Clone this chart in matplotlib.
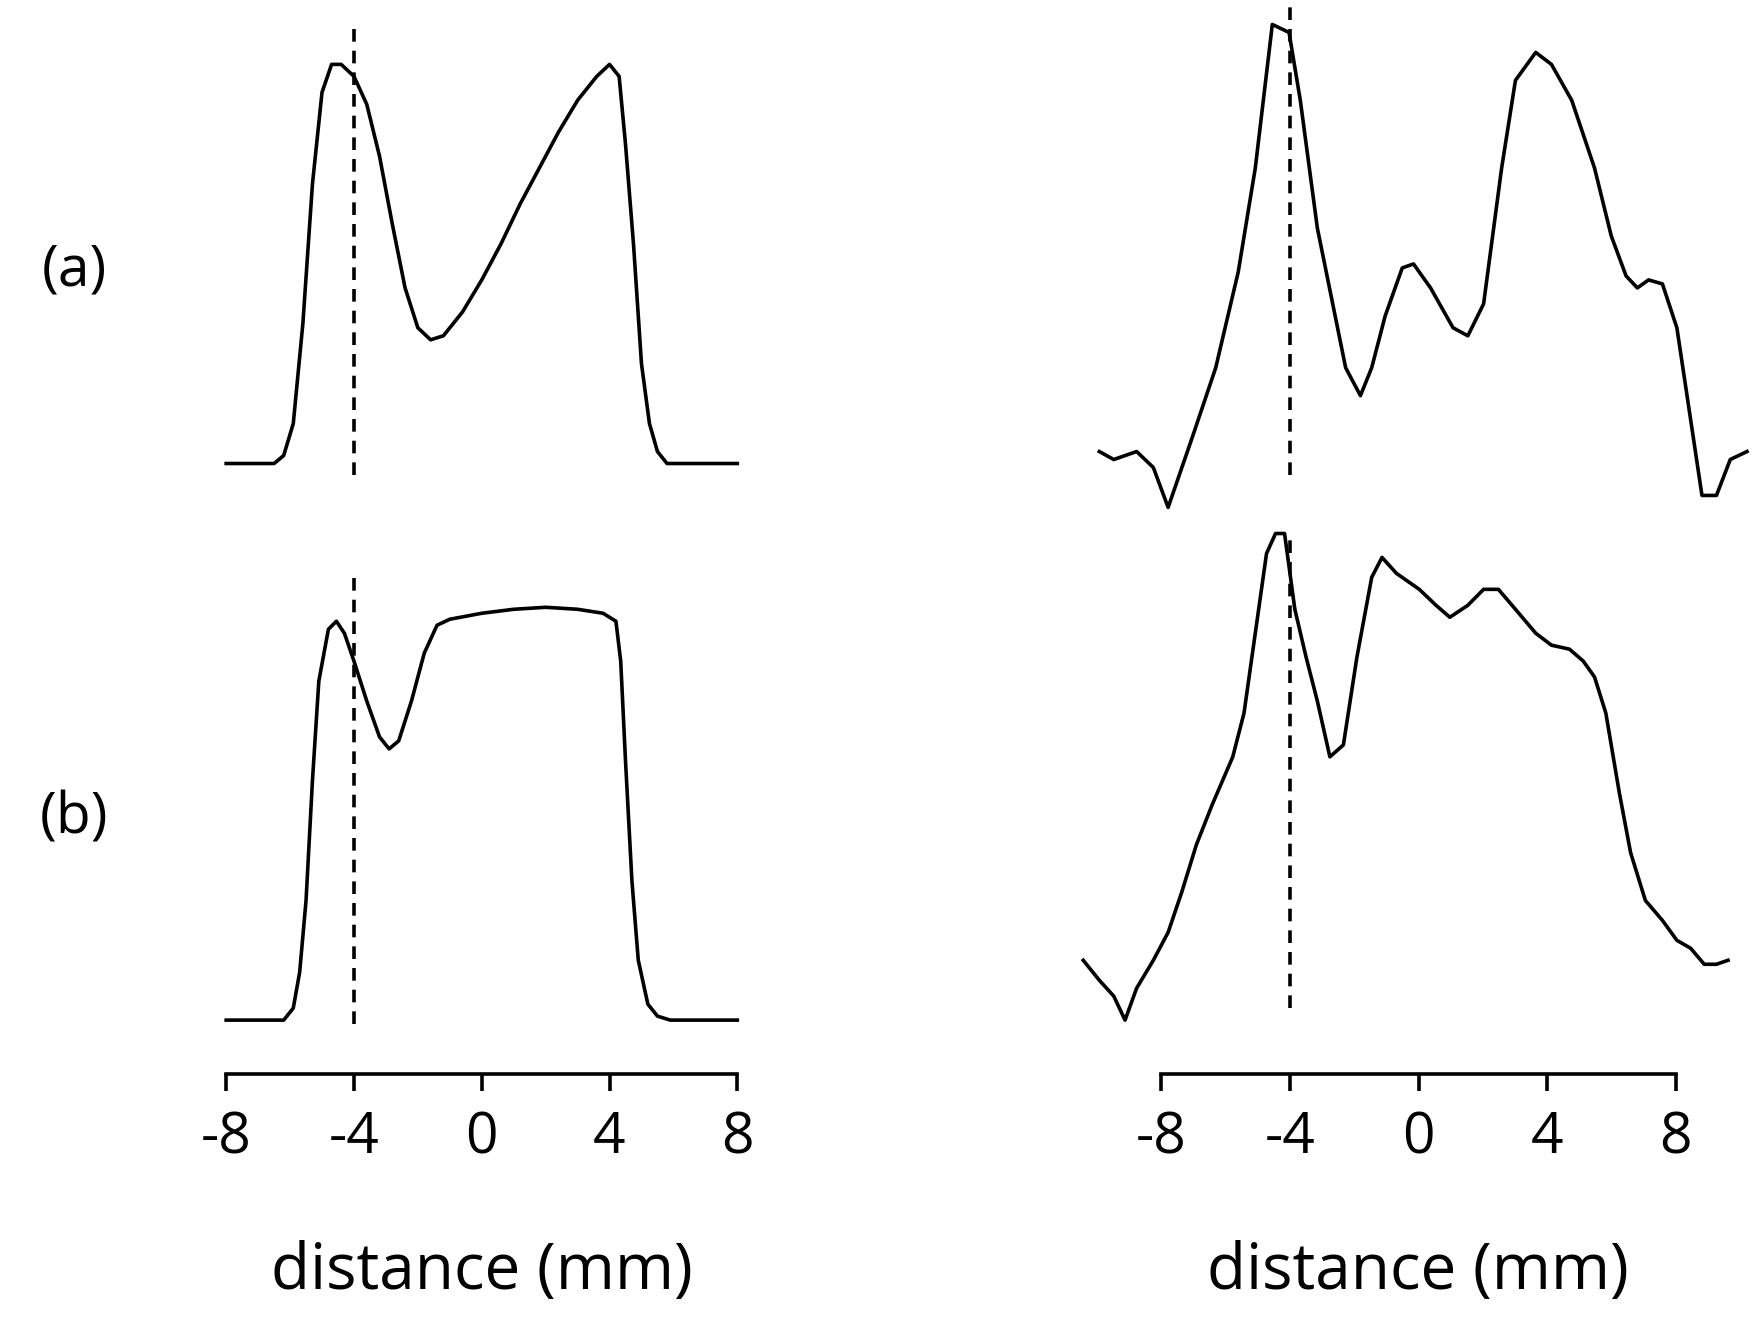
import matplotlib
matplotlib.use("Agg")
import matplotlib.pyplot as plt

# ---- data (distance in mm, normalized intensity) ----
la_x = [-8, -6.5, -6.2, -5.9, -5.6, -5.3, -5.0, -4.7, -4.4, -4.0, -3.6, -3.2, -2.8, -2.4, -2.0, -1.6, -1.2,
        -0.6, 0, 0.6, 1.2, 1.8, 2.4, 3.0, 3.6, 4.0, 4.3, 4.5, 4.75, 5.0, 5.25, 5.5, 5.8, 8]
la_y = [0, 0, 0.02, 0.1, 0.35, 0.7, 0.93, 1.0, 1.0, 0.97, 0.9, 0.77, 0.6, 0.44, 0.34, 0.31, 0.32,
        0.38, 0.46, 0.55, 0.65, 0.74, 0.83, 0.91, 0.97, 1.0, 0.97, 0.8, 0.55, 0.25, 0.1, 0.03, 0, 0]

lb_x = [-8, -6.2, -5.9, -5.7, -5.5, -5.3, -5.1, -4.8, -4.55, -4.3, -4.0, -3.6, -3.2, -2.9, -2.6, -2.2, -1.8,
        -1.4, -1.0, 0, 1, 2, 3, 3.8, 4.2, 4.35, 4.5, 4.7, 4.9, 5.2, 5.5, 5.9, 8]
lb_y = [0, 0, 0.03, 0.12, 0.3, 0.6, 0.85, 0.98, 1.0, 0.97, 0.9, 0.8, 0.71, 0.68, 0.7, 0.8, 0.92,
        0.99, 1.005, 1.02, 1.03, 1.035, 1.03, 1.02, 1.0, 0.9, 0.65, 0.35, 0.15, 0.04, 0.01, 0, 0]

ra_x = [-9.93, -9.48, -8.77, -8.25, -7.79, -7.02, -6.31, -5.61, -5.08, -4.55, -4.03, -3.68, -3.15, -2.27,
        -1.81, -1.46, -1.04, -0.51, -0.16, 0.37, 1.07, 1.53, 2.02, 2.58, 3.01, 3.64, 4.13, 4.76, 5.47,
        5.99, 6.45, 6.80, 7.15, 7.58, 8.03, 8.81, 9.26, 9.69, 10.21]
ra_y = [0.03, 0.01, 0.03, -0.01, -0.11, 0.07, 0.24, 0.48, 0.74, 1.10, 1.08, 0.91, 0.59, 0.24,
        0.17, 0.24, 0.37, 0.49, 0.50, 0.44, 0.34, 0.32, 0.40, 0.74, 0.96, 1.03, 1.00, 0.91, 0.74,
        0.57, 0.47, 0.44, 0.46, 0.45, 0.34, -0.08, -0.08, 0.01, 0.03]

rb_x = [-10.43, -9.93, -9.48, -9.13, -8.77, -8.25, -7.79, -7.37, -6.91, -6.42, -5.78, -5.43, -5.08, -4.73,
        -4.45, -4.17, -3.85, -3.50, -3.15, -2.76, -2.34, -1.92, -1.46, -1.14, -0.69, 0.02, 0.54, 0.97,
        1.53, 2.02, 2.48, 3.01, 3.64, 4.13, 4.69, 5.12, 5.47, 5.82, 6.24, 6.59, 7.05, 7.58, 8.03, 8.46,
        8.88, 9.26, 9.62]
rb_y = [0.15, 0.10, 0.06, 0, 0.08, 0.15, 0.22, 0.32, 0.44, 0.54, 0.66, 0.77, 0.97, 1.17,
        1.22, 1.22, 1.03, 0.91, 0.80, 0.66, 0.69, 0.91, 1.11, 1.16, 1.12, 1.08, 1.04, 1.01,
        1.04, 1.08, 1.08, 1.03, 0.97, 0.94, 0.93, 0.90, 0.86, 0.77, 0.57, 0.42, 0.30, 0.25, 0.20, 0.18,
        0.14, 0.14, 0.15]

marker_x = -4
dash_top_left = (-0.03, 1.09)
dash_top_right = (-0.03, 1.16)
dash_bot_left = (-0.01, 1.12)
dash_bot_right = (0.03, 1.22)

ticks = [-8, -4, 0, 4, 8]
tick_labels = ["-8", "-4", "0", "4", "8"]
row_labels = ["(a)", "(b)"]
xlabel = "distance (mm)"

# ---- figure ----
plt.rcParams['font.family'] = ['Open Sans', 'DejaVu Sans']
fig = plt.figure(figsize=(17.64, 13.17), dpi=100)
LW = 2.6

cols = [(0.1246, 0.297, (-8.2, 8.2)), (0.6128, 0.3792, (-10.5, 10.3))]
rows = [(0.6026, 0.397, (-0.15, 1.16)), (0.180, 0.424, (-0.15, 1.25))]
curves = [[(la_x, la_y, dash_top_left), (ra_x, ra_y, dash_top_right)],
          [(lb_x, lb_y, dash_bot_left), (rb_x, rb_y, dash_bot_right)]]

for r, (rb, rh, ylim) in enumerate(rows):
    for c, (cl, cw, xlim) in enumerate(cols):
        ax = fig.add_axes([cl, rb, cw, rh])
        ax.set_xlim(*xlim)
        ax.set_ylim(*ylim)
        ax.patch.set_alpha(0)
        x, y, dash = curves[r][c]
        ax.plot(x, y, color='black', lw=LW, clip_on=False, solid_joinstyle='round')
        ax.plot([marker_x, marker_x], list(dash), color='black', lw=LW,
                linestyle=(0, (3.5, 2.5)), clip_on=False)
        for s in ['top', 'right', 'left']:
            ax.spines[s].set_visible(False)
        ax.set_yticks([])
        if r == 1:
            sp = ax.spines['bottom']
            sp.set_position(('data', -0.136))
            sp.set_bounds(-8, 8)
            sp.set_linewidth(LW)
            ax.set_xticks(ticks)
            ax.set_xticklabels(tick_labels, fontsize=41)
            ax.tick_params(axis='x', direction='out', length=12, width=LW, pad=14)
        else:
            ax.spines['bottom'].set_visible(False)
            ax.set_xticks([])

fig.text(0.273, 0.034, xlabel, fontsize=46, ha='center', va='center')
fig.text(0.804, 0.034, xlabel, fontsize=46, ha='center', va='center')
fig.text(0.042, 0.794, row_labels[0], fontsize=41, ha='center', va='center')
fig.text(0.042, 0.378, row_labels[1], fontsize=41, ha='center', va='center')

fig.savefig("out.png", dpi=100)
